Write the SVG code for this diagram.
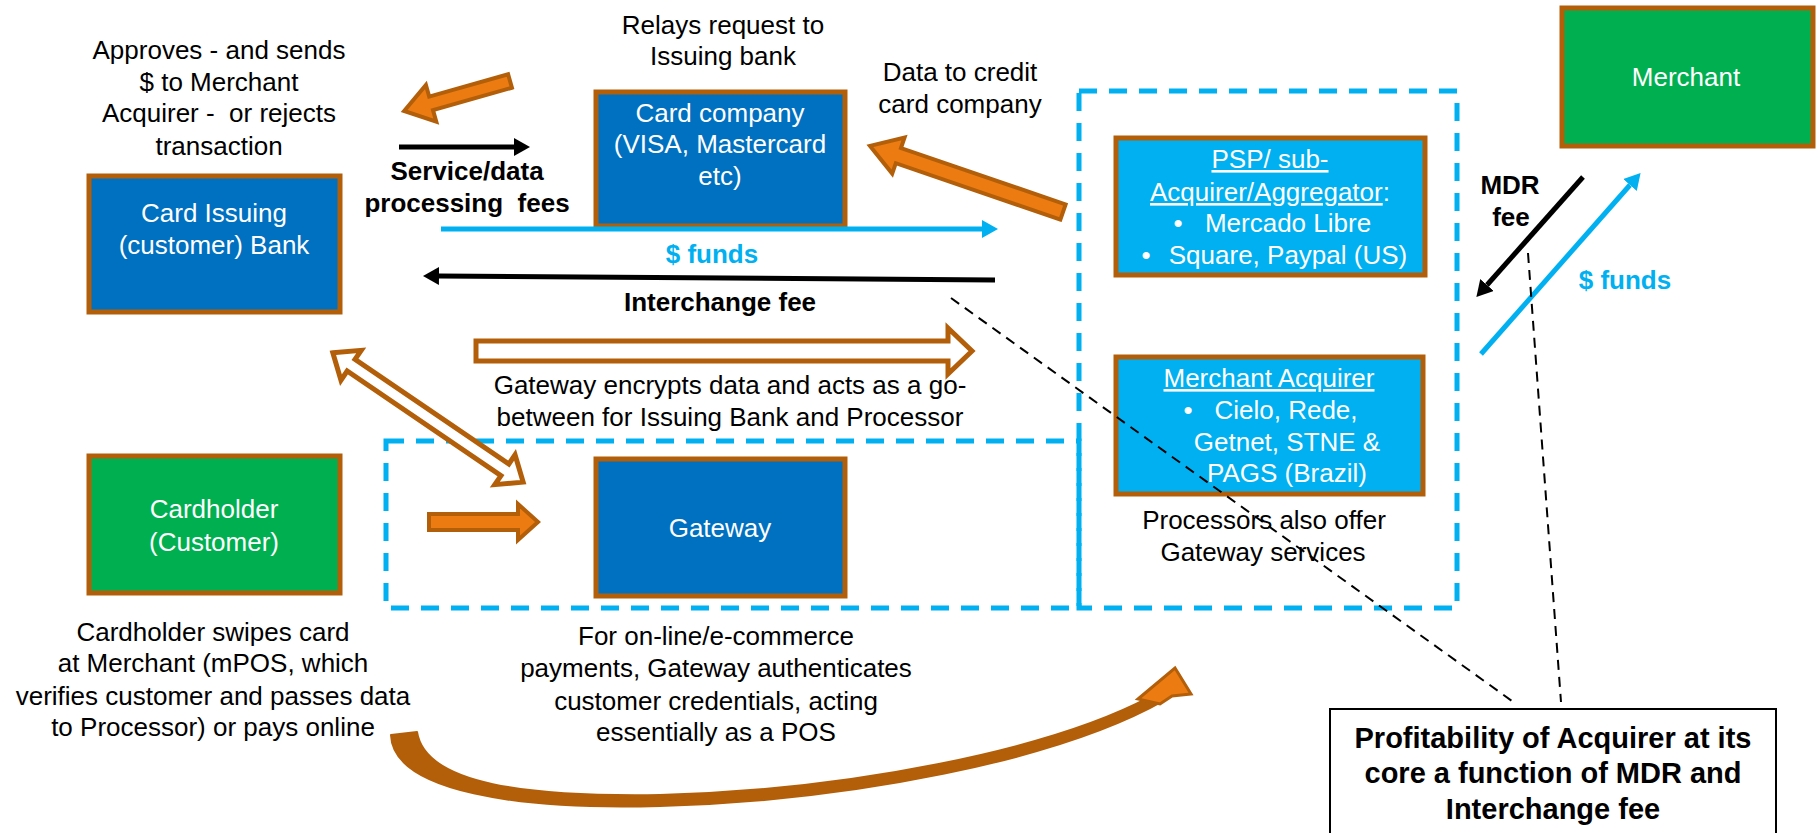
<svg xmlns="http://www.w3.org/2000/svg" width="1819" height="833" viewBox="0 0 1819 833">
<style>
text{font-family:"Liberation Sans",Arial,sans-serif;font-size:26px;fill:#000;text-anchor:middle;white-space:pre}
.w{fill:#fff}
.b{font-weight:bold}
.lb{fill:#00B0F0}
.u{text-decoration:underline}
.box{stroke:#B35F0A;stroke-width:5}
.dk{fill:#0070C0}
.lt{fill:#00B0F0}
.gr{fill:#00B050}
.dash{fill:none;stroke:#00B0F0;stroke-width:5;stroke-dasharray:18 12}
.blk{fill:#EC7C11;stroke:#B35F0A;stroke-width:4;stroke-linejoin:miter}
.hol{fill:#fff;stroke:#B35F0A;stroke-width:5}
.kl{stroke:#000;stroke-width:5;fill:none}
.bl{stroke:#00B0F0;stroke-width:5;fill:none}
.dl{stroke:#000;stroke-width:2;stroke-dasharray:10 7;fill:none}
</style>
<defs>
<marker id="hk" viewBox="0 0 16 18" refX="0" refY="9" markerWidth="16" markerHeight="18" markerUnits="userSpaceOnUse" orient="auto"><path d="M0,0 L16,9 L0,18 Z" fill="#000"/></marker>
<marker id="hb" viewBox="0 0 16 18" refX="0" refY="9" markerWidth="16" markerHeight="18" markerUnits="userSpaceOnUse" orient="auto"><path d="M0,0 L16,9 L0,18 Z" fill="#00B0F0"/></marker>
</defs>

<g id="regions">
<rect class="dash" x="1079" y="91" width="378" height="517"/>
<rect class="dash" x="386" y="441" width="693" height="167"/>
</g>

<g id="issuing-bank">
<rect class="box dk" x="89" y="176" width="251" height="136"/>
<text class="w" x="214" y="222">Card Issuing</text>
<text class="w" x="214" y="254">(customer) Bank</text>
</g>
<g id="card-company">
<rect class="box dk" x="596" y="92" width="249" height="134"/>
<text class="w" x="720" y="122">Card company</text>
<text class="w" x="720" y="153">(VISA, Mastercard</text>
<text class="w" x="720" y="185">etc)</text>
</g>
<g id="cardholder">
<rect class="box gr" x="89" y="456" width="251" height="137"/>
<text class="w" x="214" y="518">Cardholder</text>
<text class="w" x="214" y="551">(Customer)</text>
</g>
<g id="gateway">
<rect class="box dk" x="596" y="459" width="249" height="137"/>
<text class="w" x="720" y="537">Gateway</text>
</g>
<g id="psp">
<rect class="box lt" x="1116" y="138" width="309" height="137"/>
<text class="w u" x="1270" y="168">PSP/ sub-</text>
<text class="w" x="1270" y="201"><tspan class="u">Acquirer/Aggregator</tspan>:</text>
<text class="w" x="1178" y="232">•</text>
<text class="w" x="1288" y="232">Mercado Libre</text>
<text class="w" x="1146" y="264">•</text>
<text class="w" x="1288" y="264">Square, Paypal (US)</text>
</g>
<g id="merchant-acquirer">
<rect class="box lt" x="1116" y="357" width="307" height="137"/>
<text class="w u" x="1269" y="387">Merchant Acquirer</text>
<text class="w" x="1188" y="419">•</text>
<text class="w" x="1286" y="419">Cielo, Rede,</text>
<text class="w" x="1287" y="451">Getnet, STNE &amp;</text>
<text class="w" x="1287" y="482">PAGS (Brazil)</text>
</g>
<g id="merchant">
<rect class="box gr" x="1562" y="8" width="251" height="138"/>
<text class="w" x="1686" y="86">Merchant</text>
</g>
<g id="profitability">
<rect x="1330" y="709" width="446" height="140" fill="#fff" stroke="#000" stroke-width="2"/>
<text class="b" x="1553" y="748" style="font-size:29px">Profitability of Acquirer at its</text>
<text class="b" x="1553" y="783" style="font-size:29px">core a function of MDR and</text>
<text class="b" x="1553" y="819" style="font-size:29px">Interchange fee</text>
</g>

<g id="labels">
<text x="219" y="59">Approves - and sends</text>
<text x="219" y="91">$ to Merchant</text>
<text x="219" y="122">Acquirer -  or rejects</text>
<text x="219" y="155">transaction</text>
<text x="723" y="34">Relays request to</text>
<text x="723" y="65">Issuing bank</text>
<text x="960" y="81">Data to credit</text>
<text x="960" y="113">card company</text>
<text class="b" x="467" y="180">Service/data</text>
<text class="b" x="467" y="212">processing  fees</text>
<text class="b lb" x="712" y="263">$ funds</text>
<text class="b" x="720" y="311">Interchange fee</text>
<text x="730" y="394">Gateway encrypts data and acts as a go-</text>
<text x="730" y="426">between for Issuing Bank and Processor</text>
<text x="213" y="641">Cardholder swipes card</text>
<text x="213" y="672">at Merchant (mPOS, which</text>
<text x="213" y="705">verifies customer and passes data</text>
<text x="213" y="736">to Processor) or pays online</text>
<text x="716" y="645">For on-line/e-commerce</text>
<text x="716" y="677">payments, Gateway authenticates</text>
<text x="716" y="710">customer credentials, acting</text>
<text x="716" y="741">essentially as a POS</text>
<text x="1264" y="529">Processors also offer</text>
<text x="1263" y="561">Gateway services</text>
<text class="b" x="1510" y="194">MDR</text>
<text class="b" x="1511" y="226">fee</text>
<text class="b lb" x="1625" y="289">$ funds</text>
</g>

<g id="connectors">
<path class="blk" transform="translate(510,81) rotate(164.2)" d="M0,-7 L82,-7 L82,-19 L110,0 L82,19 L82,7 L0,7 Z"/>
<path class="blk" transform="translate(1063,212) rotate(-161.1)" d="M0,-8 L174,-8 L174,-19 L204,0 L174,19 L174,8 L0,8 Z"/>
<path class="blk" d="M429,514 L518,514 L518,504 L538,522 L518,540 L518,530 L429,530 Z"/>
<path class="hol" d="M476,341 L948,341 L948,328 L972,351 L948,374 L948,361 L476,361 Z"/>
<path class="hol" transform="translate(428,417.5) rotate(34.2)" d="M-115,0 L-93,-18 L-93,-7 L93,-7 L93,-18 L115,0 L93,18 L93,7 L-93,7 L-93,18 Z"/>
<line class="kl" x1="399" y1="147" x2="514" y2="147" marker-end="url(#hk)"/>
<line class="kl" x1="995" y1="280" x2="439" y2="276" marker-end="url(#hk)"/>
<line class="bl" x1="441" y1="229" x2="982" y2="229" marker-end="url(#hb)"/>
<line class="kl" x1="1583" y1="177" x2="1487" y2="285" marker-end="url(#hk)"/>
<line class="bl" x1="1481" y1="354" x2="1630" y2="185" marker-end="url(#hb)"/>
<line class="dl" x1="951" y1="298" x2="1512" y2="701"/>
<line class="dl" x1="1528" y1="253" x2="1561" y2="702"/>
<path d="M391,735 C393,792 520,810 660,806 C850,801 1060,760 1165,700 L1150,697 C1050,750 850,790 660,795 C530,797 425,785 417,732 Z" fill="#B35F0A" stroke="#B35F0A" stroke-width="2" stroke-linejoin="round"/>
<path d="M1138,699 L1175,668 L1191,694 L1172,696 L1160,704 Z" fill="#EC7C11" stroke="#B35F0A" stroke-width="3"/>
</g>
</svg>
